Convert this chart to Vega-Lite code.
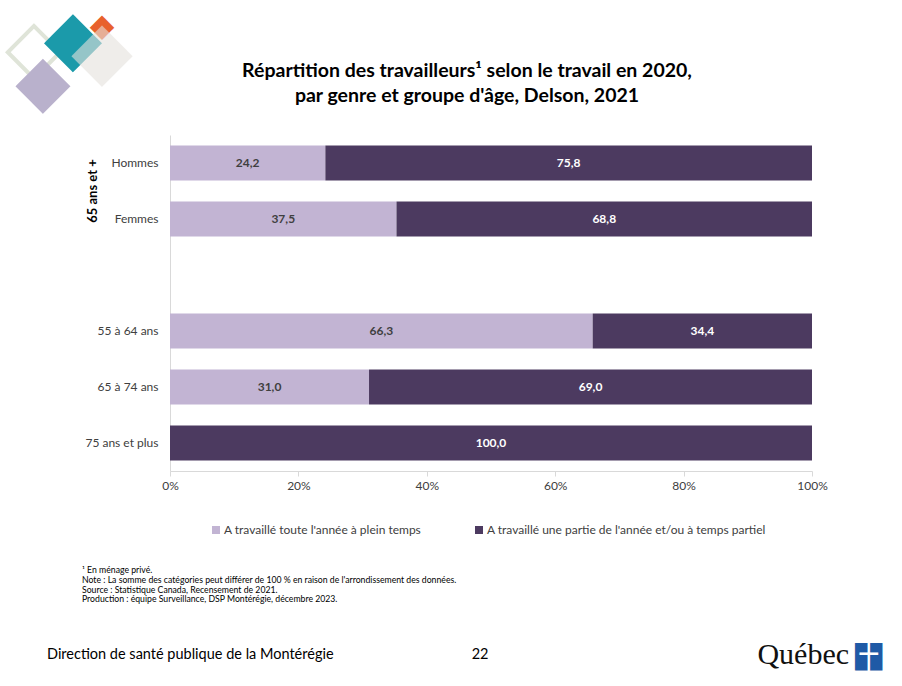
{
  "$schema": "https://vega.github.io/schema/vega-lite/v6.json",
  "width": 642,
  "height": 336,
  "autosize": {"type": "none"},
  "padding": {"left": 170, "top": 135, "right": 90, "bottom": 215},
  "background": "white",
  "config": {
    "font": "Lato",
    "view": {"stroke": null},
    "locale": {"number": {"decimal": ",", "thousands": " ", "grouping": [3], "currency": ["", " $"], "percent": "%"}}
  },
  "datasets": {
    "bars": [
      {"cat": "Hommes", "type": "A travaillé toute l'année à plein temps", "ord": 1, "value": 24.2},
      {"cat": "Hommes", "type": "A travaillé une partie de l'année et/ou à temps partiel", "ord": 2, "value": 75.8},
      {"cat": "Femmes", "type": "A travaillé toute l'année à plein temps", "ord": 1, "value": 37.5},
      {"cat": "Femmes", "type": "A travaillé une partie de l'année et/ou à temps partiel", "ord": 2, "value": 68.8},
      {"cat": "55 à 64 ans", "type": "A travaillé toute l'année à plein temps", "ord": 1, "value": 66.3},
      {"cat": "55 à 64 ans", "type": "A travaillé une partie de l'année et/ou à temps partiel", "ord": 2, "value": 34.4},
      {"cat": "65 à 74 ans", "type": "A travaillé toute l'année à plein temps", "ord": 1, "value": 31.0},
      {"cat": "65 à 74 ans", "type": "A travaillé une partie de l'année et/ou à temps partiel", "ord": 2, "value": 69.0},
      {"cat": "75 ans et plus", "type": "A travaillé une partie de l'année et/ou à temps partiel", "ord": 2, "value": 100.0}
    ]
  },
  "layer": [
    {
      "data": {"values": [{"cat": "Hommes", "pos": -0.212}]},
      "mark": {"type": "text", "text": "◇", "font": "DejaVu Sans", "fontSize": 76, "baseline": "middle", "align": "center", "dy": -114, "color": "#dfe4d8"},
      "encoding": {"y": {"field": "cat", "type": "nominal"}, "x": {"field": "pos", "type": "quantitative"}}
    },
    {
      "data": {"values": [{"cat": "Hommes", "pos": -0.198}]},
      "mark": {"type": "text", "text": "◆", "font": "DejaVu Sans", "fontSize": 72, "baseline": "middle", "align": "center", "dy": -80, "color": "#b9b1cc"},
      "encoding": {"y": {"field": "cat", "type": "nominal"}, "x": {"field": "pos", "type": "quantitative"}}
    },
    {
      "data": {"values": [{"cat": "Hommes", "pos": -0.151}]},
      "mark": {"type": "text", "text": "◆", "font": "DejaVu Sans", "fontSize": 76, "baseline": "middle", "align": "center", "dy": -123, "color": "#1b9aaa"},
      "encoding": {"y": {"field": "cat", "type": "nominal"}, "x": {"field": "pos", "type": "quantitative"}}
    },
    {
      "data": {"values": [{"cat": "Hommes", "pos": -0.106}]},
      "mark": {"type": "text", "text": "◆", "font": "DejaVu Sans", "fontSize": 32, "baseline": "middle", "align": "center", "dy": -137, "color": "#e8612c"},
      "encoding": {"y": {"field": "cat", "type": "nominal"}, "x": {"field": "pos", "type": "quantitative"}}
    },
    {
      "data": {"values": [{"cat": "Hommes", "pos": -0.106}]},
      "mark": {"type": "text", "text": "◆", "font": "DejaVu Sans", "fontSize": 80, "baseline": "middle", "align": "center", "dy": -110, "color": "#e6e2dd", "opacity": 0.6},
      "encoding": {"y": {"field": "cat", "type": "nominal"}, "x": {"field": "pos", "type": "quantitative"}}
    },
    {
      "data": {"values": [{"cat": "Hommes", "pos": 0.4626}]},
      "mark": {"type": "text", "fontSize": 19.5, "fontWeight": "bold", "baseline": "middle", "align": "center", "dy": -92, "lineHeight": 25, "color": "#000000",
        "text": ["Répartition des travailleurs¹ selon le travail en 2020,", "par genre et groupe d'âge, Delson, 2021"]},
      "encoding": {"y": {"field": "cat", "type": "nominal"}, "x": {"field": "pos", "type": "quantitative"}}
    },
    {
      "data": {"name": "bars"},
      "mark": {"type": "bar"},
      "encoding": {
        "y": {
          "field": "cat",
          "type": "nominal",
          "scale": {"domain": ["Hommes", "Femmes", " ", "55 à 64 ans", "65 à 74 ans", "75 ans et plus"], "paddingInner": 0.375, "paddingOuter": 0.1875},
          "axis": {"title": null, "ticks": false, "labelPadding": 12, "labelFontSize": 12, "labelColor": "#404040", "domainColor": "#d9d9d9", "domainWidth": 1}
        },
        "x": {
          "field": "value",
          "type": "quantitative",
          "stack": "normalize",
          "scale": {"domain": [0, 1]},
          "axis": {"title": null, "format": "%", "values": [0, 0.2, 0.4, 0.6, 0.8, 1], "grid": false, "labelFlush": false, "labelFontSize": 12, "labelColor": "#404040", "domainColor": "#d9d9d9", "tickColor": "#d9d9d9", "tickSize": 5, "labelPadding": 4}
        },
        "color": {
          "field": "type",
          "type": "nominal",
          "scale": {"domain": ["A travaillé toute l'année à plein temps", "A travaillé une partie de l'année et/ou à temps partiel"], "range": ["#c2b4d3", "#4c3a60"]},
          "legend": {"title": null, "orient": "none", "legendX": 40, "legendY": 389, "direction": "horizontal", "symbolType": "square", "symbolSize": 64, "symbolStrokeWidth": 0, "labelFontSize": 12, "labelColor": "#404040", "labelLimit": 0, "columnPadding": 51, "labelOffset": 2}
        },
        "order": {"field": "ord", "type": "quantitative"}
      }
    },
    {
      "data": {"name": "bars"},
      "transform": [
        {"joinaggregate": [{"op": "sum", "field": "value", "as": "total"}], "groupby": ["cat"]},
        {"calculate": "datum.value / datum.total", "as": "pct"},
        {"window": [{"op": "sum", "field": "pct", "as": "cum"}], "groupby": ["cat"], "sort": [{"field": "ord"}], "frame": [null, 0]},
        {"calculate": "datum.cum - datum.pct / 2", "as": "mid"}
      ],
      "mark": {"type": "text", "fontSize": 12, "fontWeight": "bold", "baseline": "middle", "align": "center"},
      "encoding": {
        "y": {"field": "cat", "type": "nominal"},
        "x": {"field": "mid", "type": "quantitative"},
        "text": {"field": "value", "type": "quantitative", "format": ".1f"},
        "color": {"condition": {"test": "datum.ord == 2", "value": "#ffffff"}, "value": "#3f3f3f"}
      }
    },
    {
      "data": {"values": [{"lab": "65 ans et +", "cat": "Hommes", "pos": -0.12}]},
      "mark": {"type": "text", "fontSize": 13, "fontWeight": "bold", "angle": 270, "baseline": "middle", "align": "center", "dx": -28, "color": "#000000"},
      "encoding": {
        "y": {"field": "cat", "type": "nominal"},
        "x": {"field": "pos", "type": "quantitative"},
        "text": {"field": "lab"}
      }
    },
    {
      "data": {"values": [{"cat": "75 ans et plus", "pos": -0.1371}]},
      "mark": {"type": "text", "fontSize": 8.7, "baseline": "top", "align": "left", "dy": 123, "lineHeight": 9.8, "color": "#000000",
        "text": ["¹ En ménage privé.", "Note : La somme des catégories peut différer de 100 % en raison de l'arrondissement des données.", "Source : Statistique Canada, Recensement de 2021.", "Production : équipe Surveillance, DSP Montérégie, décembre 2023."]},
      "encoding": {
        "y": {"field": "cat", "type": "nominal"},
        "x": {"field": "pos", "type": "quantitative"}
      }
    },
    {
      "data": {"values": [{"cat": "75 ans et plus", "pos": -0.1916, "lab": "Direction de santé publique de la Montérégie"}]},
      "mark": {"type": "text", "fontSize": 14.5, "baseline": "middle", "align": "left", "dy": 212, "color": "#000000"},
      "encoding": {
        "y": {"field": "cat", "type": "nominal"},
        "x": {"field": "pos", "type": "quantitative"},
        "text": {"field": "lab"}
      }
    },
    {
      "data": {"values": [{"cat": "75 ans et plus", "pos": 0.483, "lab": "22"}]},
      "mark": {"type": "text", "fontSize": 14.5, "baseline": "middle", "align": "center", "dy": 212, "color": "#000000"},
      "encoding": {
        "y": {"field": "cat", "type": "nominal"},
        "x": {"field": "pos", "type": "quantitative"},
        "text": {"field": "lab"}
      }
    },
    {
      "data": {"values": [{"cat": "75 ans et plus", "pos": 0.915, "lab": "Québec"}]},
      "mark": {"type": "text", "font": "Liberation Serif", "fontSize": 30, "baseline": "middle", "align": "left", "dy": 212, "color": "#111111"},
      "encoding": {
        "y": {"field": "cat", "type": "nominal"},
        "x": {"field": "pos", "type": "quantitative"},
        "text": {"field": "lab"}
      }
    },
    {
      "data": {"values": [{"cat": "75 ans et plus", "pos": 1.088}]},
      "mark": {"type": "text", "text": "■", "font": "DejaVu Sans", "fontSize": 36, "baseline": "middle", "align": "center", "dy": 212, "color": "#1f5aa6"},
      "encoding": {"y": {"field": "cat", "type": "nominal"}, "x": {"field": "pos", "type": "quantitative"}}
    },
    {
      "data": {"values": [{"cat": "75 ans et plus", "pos": 1.088}]},
      "mark": {"type": "text", "text": "┼", "font": "DejaVu Sans Mono", "fontSize": 30, "baseline": "middle", "align": "center", "dy": 212, "color": "#ffffff"},
      "encoding": {"y": {"field": "cat", "type": "nominal"}, "x": {"field": "pos", "type": "quantitative"}}
    }
  ]
}
